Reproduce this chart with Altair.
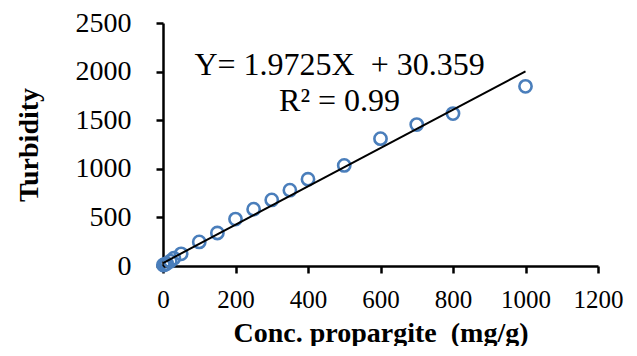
import altair as alt
import pandas as pd

conc = [1, 5, 10, 20, 30, 50, 100, 150, 200, 250, 300, 350, 400, 500, 600, 700, 800, 1000]
turb = [10, 15, 25, 50, 80, 125, 248, 340, 483, 585, 680, 780, 893, 1035, 1310, 1455, 1568, 1848]

slope = 1.9725
intercept = 30.359
line_x = [0, 1000]

eq_x = [487, 487]
eq_y = [1960, 1592]
eq_text = ["Y=\u00a01.9725X\u00a0\u00a0+\u00a030.359", "R² = 0.99"]

pts = pd.DataFrame({"x": conc, "y": turb})
ln = pd.DataFrame({"x": line_x})
eq = pd.DataFrame({"x": eq_x, "y": eq_y, "t": eq_text})

FONT = "Liberation Serif"

xs = alt.Scale(domain=[0, 1200], nice=False)
ys = alt.Scale(domain=[0, 2500], nice=False)

xaxis = alt.Axis(values=[0, 200, 400, 600, 800, 1000, 1200], format="d", labelOverlap=False,
                 labelFlush=False,
                 grid=False, domainColor="black", domainWidth=2.5, tickColor="black",
                 tickWidth=2.5, tickSize=7, labelFont=FONT, labelFontSize=25,
                 labelColor="black", labelPadding=14,
                 title="Conc.\u00a0propargite\u00a0\u00a0(mg/g)", titleFont=FONT,
                 titleFontSize=28, titleFontWeight="bold", titleColor="black",
                 titlePadding=7)
yaxis = alt.Axis(values=[0, 500, 1000, 1500, 2000, 2500], format="d", labelOverlap=False,
                 labelFlush=False,
                 grid=False, domainColor="black", domainWidth=2.5, tickColor="black",
                 tickWidth=2.5, tickSize=7, labelFont=FONT, labelFontSize=28,
                 labelColor="black", labelPadding=25, title="Turbidity", titleFont=FONT,
                 titleFontSize=28, titleFontWeight="bold", titleColor="black",
                 titlePadding=32)

points = alt.Chart(pts).mark_point(shape="circle", filled=False, size=150,
                                   strokeWidth=2.6, color="#4a7ebb", opacity=1).encode(
    x=alt.X("x:Q", scale=xs, axis=xaxis),
    y=alt.Y("y:Q", scale=ys, axis=yaxis),
)

trend = alt.Chart(ln).transform_calculate(
    y=f"{slope} * datum.x + {intercept}"
).mark_line(color="black", strokeWidth=2).encode(
    x=alt.X("x:Q", scale=xs),
    y=alt.Y("y:Q", scale=ys),
)

text = alt.Chart(eq).mark_text(font=FONT, fontSize=32, color="black",
                               baseline="alphabetic", align="center").encode(
    x=alt.X("x:Q", scale=xs),
    y=alt.Y("y:Q", scale=ys),
    text="t:N",
)

chart = alt.layer(points, trend, text).properties(
    width=435, height=243,
    autosize=alt.AutoSizeParams(type="none"),
    padding={"left": 155, "top": 15, "right": 30, "bottom": 80},
    background="white",
).configure_view(stroke=None)

chart.save("out.html", embed_options={"renderer": "svg", "actions": False})
